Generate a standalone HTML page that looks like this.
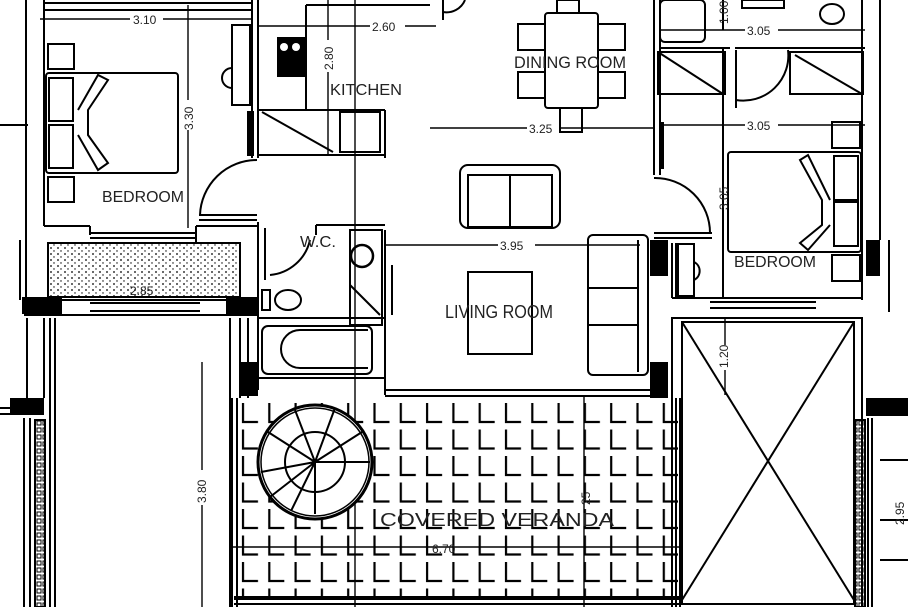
<!DOCTYPE html>
<html><head><meta charset="utf-8"><style>
html,body{margin:0;padding:0;background:#fff;}
svg{display:block;}
text{font-family:"Liberation Sans",sans-serif;fill:#222;}
</style></head><body>
<svg width="908" height="607" viewBox="0 0 908 607" xmlns="http://www.w3.org/2000/svg">
<defs>
<pattern id="tile" x="234" y="400" width="26.3" height="26.5" patternUnits="userSpaceOnUse">
<path d="M9 3 V22 H24" fill="none" stroke="#000" stroke-width="2.2"/>
</pattern>
<pattern id="dots" x="0" y="0" width="7" height="6" patternUnits="userSpaceOnUse">
<circle cx="2" cy="2" r="0.9" fill="#000"/><circle cx="5" cy="5" r="0.7" fill="#000"/>
</pattern>
<pattern id="rail" x="0" y="0" width="6" height="7" patternUnits="userSpaceOnUse">
<rect x="1" y="1" width="4" height="4" fill="none" stroke="#000" stroke-width="1"/>
</pattern>
</defs>
<g fill="none" stroke="#000" stroke-width="2">
<!-- left outer walls -->
<line x1="26" y1="0" x2="26" y2="300"/>
<line x1="44" y1="0" x2="44" y2="226"/>
<line x1="0" y1="125" x2="28" y2="125"/>
<line x1="44" y1="3" x2="252" y2="3"/>
<line x1="44" y1="10" x2="252" y2="10"/>
<!-- bedroom -->
<line x1="44" y1="226" x2="90" y2="226"/><line x1="90" y1="226" x2="90" y2="235"/>
<line x1="90" y1="233" x2="196" y2="233"/><line x1="90" y1="238" x2="196" y2="238"/>
<line x1="196" y1="226" x2="257" y2="226"/>
<line x1="196" y1="226" x2="196" y2="243"/>
<rect x="48" y="44" width="26" height="25"/>
<rect x="48" y="177" width="26" height="25"/>
<rect x="46" y="73" width="132" height="100" rx="3"/>
<rect x="49" y="78" width="24" height="43"/><rect x="49" y="125" width="24" height="43"/>
<path d="M78 110 L98 75 L108 80 L88 110 L88 135 L108 163 L98 170 L78 135"/>
<!-- 3.10 dim -->
<line x1="40" y1="19" x2="130" y2="19" stroke-width="1.4"/><line x1="163" y1="19" x2="252" y2="19" stroke-width="1.4"/>
<line x1="188" y1="5" x2="188" y2="100" stroke-width="1.4"/><line x1="188" y1="130" x2="188" y2="228" stroke-width="1.4"/>
<!-- kitchen wall & closet -->
<line x1="252" y1="0" x2="252" y2="158"/><line x1="258" y1="0" x2="258" y2="158"/>
<rect x="232" y="25" width="18" height="80"/>
<path d="M232 68 A10 10 0 0 0 232 88"/>
<rect x="248" y="112" width="5" height="43" fill="#000"/>
<line x1="306" y1="5" x2="306" y2="110"/>
<line x1="306" y1="5" x2="430" y2="5"/>
<line x1="258" y1="110" x2="385" y2="110"/><line x1="258" y1="155" x2="385" y2="155"/>
<line x1="385" y1="110" x2="385" y2="158"/>
<rect x="340" y="112" width="40" height="40"/>
<line x1="262" y1="112" x2="333" y2="152"/>
<line x1="328" y1="0" x2="328" y2="40" stroke-width="1.4"/><line x1="328" y1="72" x2="328" y2="155" stroke-width="1.4"/>
<line x1="355" y1="0" x2="355" y2="607" stroke-width="1.4"/>
<line x1="258" y1="26" x2="370" y2="26" stroke-width="1.4"/><line x1="405" y1="26" x2="436" y2="26" stroke-width="1.4"/>
<line x1="443" y1="0" x2="443" y2="20"/>
<path d="M443 12 A20 20 0 0 0 465 0"/>
<!-- hall door -->
<path d="M257 160 A57 57 0 0 0 200 215"/>
<line x1="199" y1="215" x2="257" y2="215"/><line x1="199" y1="220" x2="257" y2="220"/>
<!-- WC -->
<line x1="258" y1="222" x2="258" y2="390"/><line x1="265" y1="228" x2="265" y2="280"/>
<line x1="316" y1="225" x2="385" y2="225"/><line x1="316" y1="225" x2="316" y2="235"/>
<path d="M270 275 A45 45 0 0 0 310 240"/>
<rect x="350" y="230" width="32" height="95"/>
<line x1="350" y1="285" x2="380" y2="315"/>
<circle cx="362" cy="256" r="11" stroke-width="2.5"/>
<line x1="385" y1="230" x2="385" y2="395"/><line x1="392" y1="265" x2="392" y2="315"/>
<ellipse cx="288" cy="300" rx="13" ry="10"/><rect x="262" y="290" width="8" height="20"/>
<rect x="262" y="326" width="110" height="48" rx="6"/>
<path d="M368 330 H300 A18 18 0 0 0 300 368 H368"/>
<line x1="258" y1="318" x2="385" y2="318"/><line x1="258" y1="378" x2="385" y2="378"/>
<!-- planter -->
<rect x="48" y="243" width="192" height="54" fill="url(#dots)"/>
<line x1="20" y1="240" x2="20" y2="300"/>
<line x1="24" y1="300" x2="258" y2="300"/><line x1="24" y1="315" x2="258" y2="315"/>
<line x1="90" y1="303" x2="200" y2="303"/><line x1="90" y1="311" x2="200" y2="311"/>
<!-- left lower area -->
<line x1="50" y1="318" x2="50" y2="607"/><line x1="55" y1="318" x2="55" y2="607"/>
<line x1="230" y1="318" x2="230" y2="607"/><line x1="240" y1="318" x2="240" y2="398"/>
<line x1="248" y1="318" x2="248" y2="398"/>
<line x1="202" y1="362" x2="202" y2="470" stroke-width="1.4"/><line x1="202" y1="505" x2="202" y2="607" stroke-width="1.4"/>
<line x1="27" y1="318" x2="27" y2="398"/><line x1="44" y1="318" x2="44" y2="398"/>
<!-- left rail -->
<line x1="24" y1="418" x2="24" y2="607"/><line x1="30" y1="418" x2="30" y2="607"/>
<rect x="35" y="420" width="10" height="187" fill="url(#rail)"/>
<line x1="0" y1="408" x2="10" y2="408"/><line x1="0" y1="414" x2="10" y2="414"/>
<!-- veranda -->
<rect x="238" y="400" width="440" height="200" fill="url(#tile)" stroke="none"/>
<line x1="232" y1="398" x2="232" y2="607"/><line x1="237" y1="398" x2="237" y2="607"/>
<line x1="385" y1="390" x2="650" y2="390"/><line x1="385" y1="396" x2="650" y2="396"/>
<line x1="234" y1="598" x2="680" y2="598" stroke-width="4"/>
<line x1="234" y1="604" x2="680" y2="604"/>
<line x1="230" y1="547" x2="680" y2="547" stroke-width="1.4"/>
<line x1="584" y1="396" x2="584" y2="607" stroke-width="1.4"/>
<circle cx="315" cy="462" r="57" fill="#fff" stroke-width="3"/>
<circle cx="315" cy="462" r="54" stroke-width="1.5"/>
<circle cx="315" cy="462" r="30" stroke-width="2"/>
<path d="M315 462 V514 M315 462 H370 M315 462 L362 432 M315 462 L335 408 M315 462 L295 410 M315 462 L268 432 M315 462 L261 472 M315 462 L270 497 M315 462 L291 511"/>
<!-- living room -->
<rect x="460" y="165" width="100" height="63" rx="8"/>
<rect x="468" y="175" width="42" height="52"/><rect x="510" y="175" width="42" height="52"/>
<rect x="468" y="272" width="64" height="82"/>
<rect x="588" y="235" width="60" height="140" rx="5"/>
<line x1="588" y1="288" x2="638" y2="288"/><line x1="588" y1="325" x2="638" y2="325"/><line x1="638" y1="240" x2="638" y2="372"/>
<line x1="385" y1="245" x2="498" y2="245" stroke-width="1.4"/><line x1="535" y1="245" x2="640" y2="245" stroke-width="1.4"/>
<line x1="430" y1="128" x2="527" y2="128" stroke-width="1.4"/><line x1="560" y1="128" x2="654" y2="128" stroke-width="1.4"/>
<!-- dining -->
<rect x="545" y="13" width="53" height="95" rx="3"/>
<rect x="518" y="24" width="27" height="26"/><rect x="518" y="72" width="27" height="26"/>
<rect x="598" y="24" width="27" height="26"/><rect x="598" y="72" width="27" height="26"/>
<rect x="560" y="108" width="22" height="24"/><rect x="557" y="0" width="22" height="13"/>
<!-- right section -->
<line x1="654" y1="0" x2="654" y2="175"/><line x1="660" y1="0" x2="660" y2="175"/>
<rect x="658" y="52" width="67" height="42"/><line x1="658" y1="52" x2="723" y2="94"/>
<rect x="790" y="52" width="73" height="42"/><line x1="795" y1="55" x2="862" y2="94"/>
<line x1="660" y1="48" x2="730" y2="48"/><line x1="735" y1="48" x2="865" y2="48"/>
<path d="M736 50 V108 M736 100 A45 45 0 0 0 788 50"/>
<line x1="723" y1="48" x2="723" y2="298"/>
<rect x="660" y="0" width="45" height="42" rx="5"/>
<rect x="742" y="0" width="42" height="8"/>
<ellipse cx="832" cy="14" rx="12" ry="10"/>
<line x1="862" y1="0" x2="862" y2="300"/><line x1="880" y1="0" x2="880" y2="240"/>
<line x1="660" y1="30" x2="745" y2="30" stroke-width="1.4"/><line x1="778" y1="30" x2="865" y2="30" stroke-width="1.4"/>
<line x1="660" y1="125" x2="745" y2="125" stroke-width="1.4"/><line x1="778" y1="125" x2="865" y2="125" stroke-width="1.4"/>
<line x1="723" y1="0" x2="723" y2="30"/>
<path d="M654 178 A55 55 0 0 1 710 233"/>
<line x1="654" y1="233" x2="712" y2="233"/><line x1="654" y1="238" x2="712" y2="238"/>
<rect x="728" y="152" width="133" height="100" rx="3"/>
<rect x="832" y="122" width="28" height="26"/><rect x="832" y="255" width="28" height="26"/>
<rect x="834" y="156" width="24" height="44"/><rect x="834" y="202" width="24" height="44"/>
<path d="M830 200 L808 155 L800 160 L822 200 L822 225 L800 243 L808 250 L830 225"/>
<line x1="672" y1="243" x2="672" y2="298"/><line x1="676" y1="243" x2="676" y2="298"/>
<rect x="678" y="244" width="16" height="52"/><path d="M694 262 A10 10 0 0 1 694 280"/>
<line x1="672" y1="298" x2="862" y2="298"/>
<line x1="710" y1="302" x2="816" y2="302"/><line x1="710" y1="308" x2="816" y2="308"/>
<line x1="889" y1="240" x2="889" y2="312"/>
<!-- void -->
<rect x="672" y="318" width="190" height="290"/>
<rect x="682" y="322" width="172" height="282"/>
<line x1="682" y1="322" x2="854" y2="600"/><line x1="854" y1="322" x2="682" y2="600"/>
<line x1="725" y1="318" x2="725" y2="345" stroke-width="1.4"/><line x1="725" y1="370" x2="725" y2="395" stroke-width="1.4"/>
<line x1="676" y1="398" x2="676" y2="607"/>
<line x1="680" y1="398" x2="680" y2="607"/>
<!-- right rail -->
<rect x="855" y="420" width="10" height="187" fill="url(#rail)"/>
<line x1="868" y1="418" x2="868" y2="607"/><line x1="872" y1="418" x2="872" y2="607"/>
<line x1="880" y1="460" x2="908" y2="460"/><line x1="880" y1="520" x2="908" y2="520"/><line x1="880" y1="560" x2="908" y2="560"/>
</g>
<!-- black columns -->
<g fill="#000">
<rect x="22" y="297" width="40" height="17"/><rect x="226" y="297" width="32" height="17"/>
<rect x="240" y="362" width="18" height="34"/><rect x="10" y="398" width="34" height="17"/>
<rect x="650" y="240" width="18" height="36"/><rect x="650" y="362" width="18" height="36"/>
<rect x="866" y="240" width="14" height="36"/><rect x="866" y="398" width="42" height="18"/>
<rect x="659" y="122" width="5" height="47"/>
<rect x="277" y="37" width="28" height="40"/>
</g>
<circle cx="284" cy="47" r="4" fill="#fff"/><circle cx="296" cy="47" r="4" fill="#fff"/>
<!-- labels -->
<g font-size="16">
<text x="102" y="202" textLength="82" lengthAdjust="spacingAndGlyphs">BEDROOM</text>
<text x="330" y="95" textLength="72" lengthAdjust="spacingAndGlyphs">KITCHEN</text>
<text x="514" y="68" textLength="112" lengthAdjust="spacingAndGlyphs" font-size="17">DINING ROOM</text>
<text x="300" y="247" textLength="36" lengthAdjust="spacingAndGlyphs">W.C.</text>
<text x="445" y="318" textLength="108" lengthAdjust="spacingAndGlyphs" font-size="18">LIVING ROOM</text>
<text x="734" y="267" textLength="82" lengthAdjust="spacingAndGlyphs">BEDROOM</text>
<text x="380" y="526" textLength="234" lengthAdjust="spacingAndGlyphs" font-size="18">COVERED VERANDA</text>
</g>
<g font-size="12">
<text x="133" y="24">3.10</text>
<text x="372" y="31">2.60</text>
<text x="529" y="133">3.25</text>
<text x="747" y="35">3.05</text>
<text x="747" y="130">3.05</text>
<text x="500" y="250">3.95</text>
<text x="432" y="553" fill="#555">6.70</text>
<text x="130" y="295" fill="#555">2.85</text>
<text transform="translate(193,102) rotate(-90)" x="-28" y="0">3.30</text>
<text transform="translate(333,70) rotate(-90)" x="0" y="0">2.80</text>
<text transform="translate(206,503) rotate(-90)" x="0" y="0">3.80</text>
<text transform="translate(728,210) rotate(-90)" x="0" y="0">3.05</text>
<text transform="translate(728,368) rotate(-90)" x="0" y="0">1.20</text>
<text transform="translate(728,24) rotate(-90)" x="0" y="0">1.00</text>
<text transform="translate(590,505) rotate(-90)" x="0" y="0">25</text>
<text transform="translate(904,525) rotate(-90)" x="0" y="0">2.95</text>
</g>
</svg>
</body></html>
